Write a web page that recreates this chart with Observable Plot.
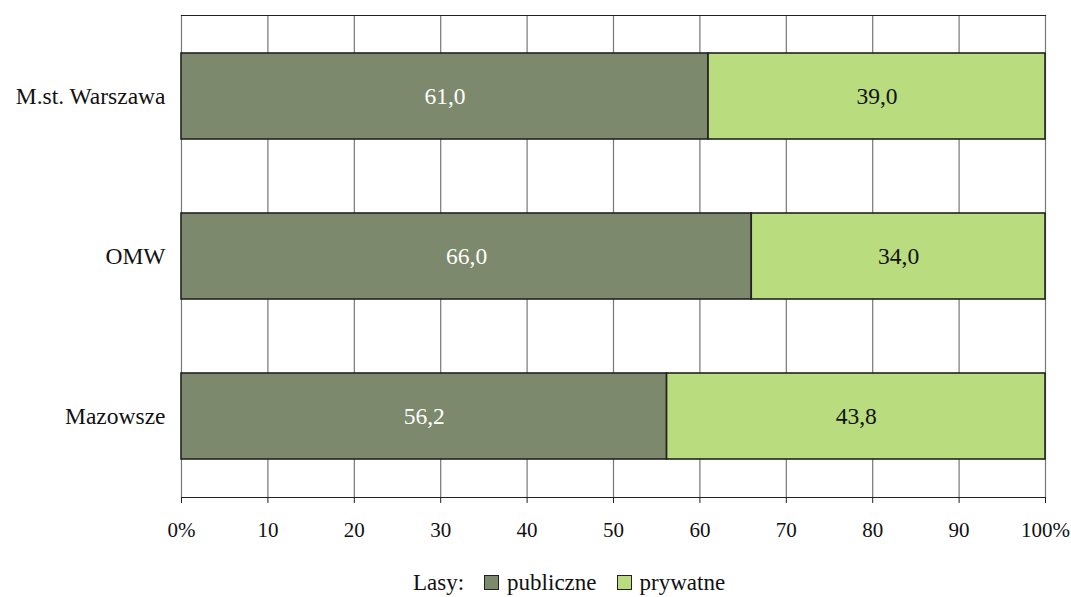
<!DOCTYPE html>
<html><head><meta charset="utf-8">
<script src="https://cdn.jsdelivr.net/npm/d3@7"></script>
<script src="https://cdn.jsdelivr.net/npm/@observablehq/plot@0.6"></script>
<style>
body{margin:0;background:#fff;font-family:"Liberation Serif",serif;position:relative;width:1071px;height:597px;overflow:hidden}
svg text{font-family:"Liberation Serif",serif;}
#legend{position:absolute;left:413px;top:569px;font-size:23px;line-height:28px;color:#111;white-space:nowrap}
.item{margin-left:20px}
.sw{display:inline-block;width:13px;height:13px;border:1.5px solid #222;margin-right:8px;vertical-align:0px}
</style></head><body>
<div id="chart"></div>
<div id="legend"></div>
<script>
const regions = ["M.st. Warszawa", "OMW", "Mazowsze"];
const publiczne = [61.0, 66.0, 56.2];
const prywatne = [39.0, 34.0, 43.8];
const seriesNames = ["publiczne", "prywatne"];
const seriesColors = ["#7c896c", "#b8dc7e"];
const labelColors = ["#ffffff", "#111111"];
const xTicks = [0,10,20,30,40,50,60,70,80,90,100];

const data = [];
regions.forEach((r,i)=>{
  data.push({region:r, series:seriesNames[0], value:publiczne[i], start:0, end:publiczne[i]});
  data.push({region:r, series:seriesNames[1], value:prywatne[i], start:publiczne[i], end:publiczne[i]+prywatne[i]});
});
const fmt = v => v.toFixed(1).replace(".", ",");

const plot = Plot.plot({
  width: 1071,
  height: 550,
  marginLeft: 181,
  marginRight: 26,
  marginTop: 15,
  marginBottom: 53,
  style: {fontSize: "21px", color: "#111", background: "#fff"},
  x: {domain: [0,100], ticks: xTicks, label: null},
  y: {domain: regions, paddingInner: 0.46, paddingOuter: 0.23, label: null},
  color: {domain: seriesNames, range: seriesColors},
  marks: [
    Plot.ruleX(xTicks, {stroke: "#777", strokeWidth: 1.2}),
    Plot.frame({anchor: "top", stroke: "#222", strokeWidth: 1.2}),
    Plot.frame({anchor: "bottom", stroke: "#222", strokeWidth: 1.2}),
    Plot.barX(data, {y: "region", x1: "start", x2: "end", fill: "series", stroke: "#222", strokeWidth: 1.6}),
    Plot.text(data, {y: "region", x: d => (d.start + d.end)/2, text: d => fmt(d.value), fill: d => labelColors[seriesNames.indexOf(d.series)], fontSize: 23.5}),
    Plot.axisX({ticks: xTicks, tickSize: 6, tickPadding: 19, stroke: "#222", fontSize: 21, tickFormat: d => (d===0||d===100) ? d+"%" : String(d), label: null}),
    Plot.axisY({tickSize: 0, tickPadding: 16, fontSize: 23.5, label: null})
  ]
});
document.getElementById("chart").appendChild(plot);

const lg = document.getElementById("legend");
let html = '<span>Lasy:</span>';
seriesNames.forEach((s,i)=>{ html += `<span class="item"><span class="sw" style="background:${seriesColors[i]}"></span>${s}</span>`; });
lg.innerHTML = html;
</script>
</body></html>
